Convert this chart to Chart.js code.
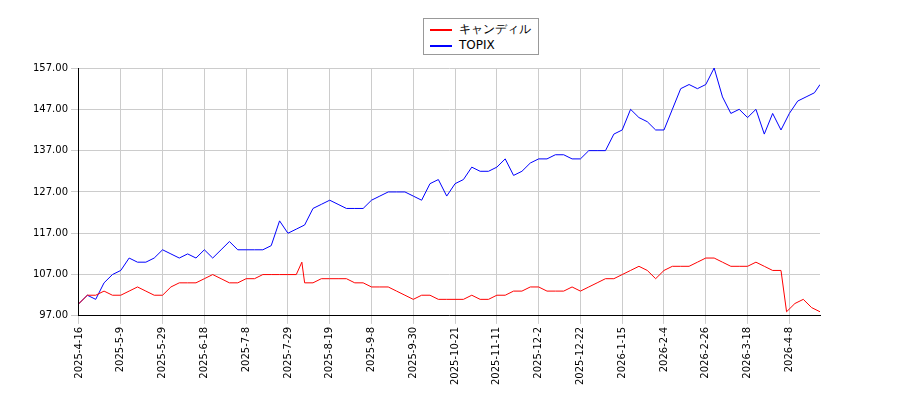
<!DOCTYPE html>
<html><head><meta charset="utf-8">
<script src="https://cdn.jsdelivr.net/npm/chart.js@4"></script>
<style>body{margin:0;background:#fff}#w{width:900px;height:400px;position:relative}
#lg{position:absolute;left:423px;top:18px;width:116px;height:37px;border:1px solid #999;background:#fff;font:12px "DejaVu Sans";box-sizing:border-box;padding:2px 6px}
#lg div{height:16px;line-height:16px;white-space:nowrap}#lg span{display:inline-block;width:22px;height:2px;vertical-align:middle;margin-right:7px}</style>
</head><body><div id="w"><canvas id="c"></canvas>
<div id="lg"><div><span style="background:#f00"></span>キャンディル</div><div><span style="background:#00f"></span>TOPIX</div></div></div>
<script>
const tickIdx=[0,15,30,45,60,75,90,105,120,135,150,165,180,195,210,225,240,255];
const tickLabels=["2025-4-16","2025-5-9","2025-5-29","2025-6-18","2025-7-8","2025-7-29","2025-8-19","2025-9-8","2025-9-30","2025-10-21","2025-11-11","2025-12-2","2025-12-22","2026-1-15","2026-2-4","2026-2-26","2026-3-18","2026-4-8"];
const topixIdx=[0,3,6,9,12,15,18,21,24,27,30,33,36,39,42,45,48,51,54,57,60,63,66,69,72,75,78,81,84,87,90,93,96,99,102,105,108,111,114,117,120,123,126,129,132,135,138,141,144,147,150,153,156,159,162,165,168,171,174,177,180,183,186,189,192,195,198,201,204,207,210,213,216,219,222,225,228,231,234,237,240,243,246,249,252,255,258,261,264,266];
const topixVal=[100,102,101,105,107,108,111,110,110,111,113,112,111,112,111,113,111,113,115,113,113,113,113,114,120,117,118,119,123,124,125,124,123,123,123,125,126,127,127,127,126,125,129,130,126,129,130,133,132,132,133,135,131,132,134,135,135,136,136,135,135,137,137,137,141,142,147,145,144,142,142,147,152,153,152,153,157,150,146,147,145,147,141,146,142,146,149,150,151,153];
const candIdx=[0,3,6,9,12,15,18,21,24,27,30,33,36,39,42,45,48,51,54,57,60,63,66,69,72,75,78,80,81,84,87,90,93,96,99,102,105,108,111,114,117,120,123,126,129,132,135,138,141,144,147,150,153,156,159,162,165,168,171,174,177,180,183,186,189,192,195,198,201,204,207,210,213,216,219,222,225,228,231,234,237,240,243,246,249,252,254,257,260,263,266];
const candVal=[100,102,102,103,102,102,103,104,103,102,102,104,105,105,105,106,107,106,105,105,106,106,107,107,107,107,107,110,105,105,106,106,106,106,105,105,104,104,104,103,102,101,102,102,101,101,101,101,102,101,101,102,102,103,103,104,104,103,103,103,104,103,104,105,106,106,107,108,109,108,106,108,109,109,109,110,111,111,110,109,109,109,110,109,108,108,98,100,101,99,98];
const yTicks=[97,107,117,127,137,147,157];
const pts=(a,b)=>a.map((x,i)=>({x,y:b[i]}));
Chart.defaults.font.family="DejaVu Sans";Chart.defaults.font.size=10;Chart.defaults.color="#000";
new Chart(document.getElementById('c'),{type:'line',
data:{datasets:[
{label:'キャンディル',data:pts(candIdx,candVal),borderColor:'#ff0000',borderWidth:1,pointRadius:0,tension:0},
{label:'TOPIX',data:pts(topixIdx,topixVal),borderColor:'#0000ff',borderWidth:1,pointRadius:0,tension:0}]},
options:{responsive:true,maintainAspectRatio:false,animation:false,
layout:{padding:{left:30,right:80,top:68,bottom:12}},
plugins:{legend:{display:false},tooltip:{enabled:false}},
scales:{
x:{type:'linear',min:0,max:266,afterBuildTicks:s=>{s.ticks=tickIdx.map(v=>({value:v}));},
ticks:{autoSkip:false,maxRotation:90,minRotation:90,callback:(v)=>tickLabels[tickIdx.indexOf(v)]},
grid:{color:'#cccccc'},border:{color:'#000'}},
y:{min:97,max:157,afterBuildTicks:s=>{s.ticks=yTicks.map(v=>({value:v}));},
ticks:{callback:v=>v.toFixed(2)},grid:{color:'#cccccc'},border:{color:'#000'}}}}});
</script></body></html>
